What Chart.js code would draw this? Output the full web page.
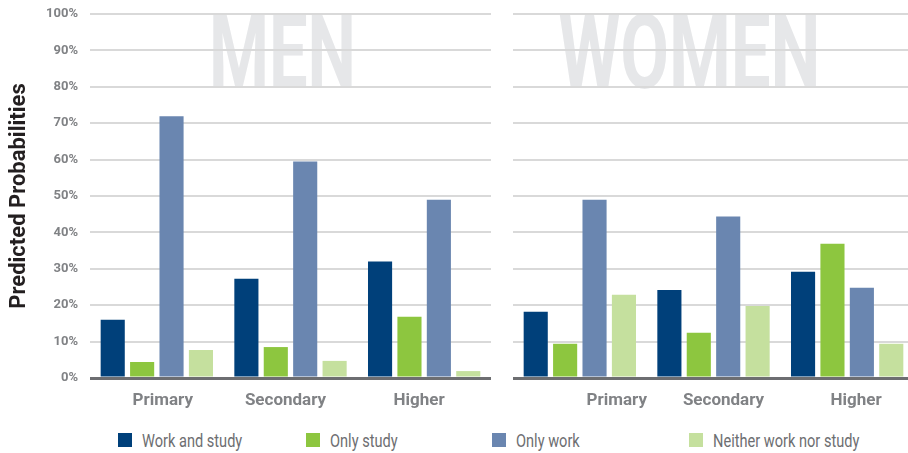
<!DOCTYPE html>
<html>
<head>
<meta charset="utf-8">
<script src="https://cdn.jsdelivr.net/npm/chart.js@4.4.1/dist/chart.umd.min.js"></script>
<style>
    html, body { margin: 0; padding: 0; background: #fff; overflow: hidden; }
    body { width: 908px; height: 453px; position: relative; }
    #menChart { position: absolute; left: 0; top: 0; }
    #womenChart { position: absolute; left: 513px; top: 0; }
    .legend { position: absolute; top: 431px; left: 118px; display: flex; }
    .legend-item { display: flex; align-items: center; height: 18px; font-family: Roboto, sans-serif; font-size: 18px; color: #6d6e71; }
    .legend-color { width: 14px; height: 14px; margin-right: 10px; flex: none; }
    .legend-label { display: inline-block; transform: scaleX(0.81); transform-origin: left center; white-space: nowrap; }
</style>
</head>
<body>
<canvas id="menChart" width="495" height="412"></canvas>
<canvas id="womenChart" width="402" height="412"></canvas>
<div class="legend" id="legend"></div>

<script>
// Education levels (x categories)
const educationLevels = ['Primary', 'Secondary', 'Higher'];
const seriesNames = ['Work and study', 'Only study', 'Only work', 'Neither work nor study'];

// Predicted probabilities (%), men
const menWorkAndStudy = [16.0, 27.3, 32.0];
const menOnlyStudy = [4.4, 8.5, 16.8];
const menOnlyWork = [71.9, 59.5, 49.0];
const menNeither = [7.7, 4.7, 1.9];

// Predicted probabilities (%), women
const womenWorkAndStudy = [18.2, 24.2, 29.2];
const womenOnlyStudy = [9.4, 12.4, 36.9];
const womenOnlyWork = [49.0, 44.4, 24.8];
const womenNeither = [22.9, 19.8, 9.4];

const seriesColors = ['#00407a', '#8dc63f', '#6a86b0', '#c5e09e'];
const tickColor = '#808285';
const gridColor = '#d9d9d9';
const axisColor = '#6d6e71';

// watermark text ("MEN" / "WOMEN") drawn behind the grid
const watermarkPlugin = {
    id: 'watermark',
    beforeDraw(chart, args, opts) {
        if (!opts.text) return;
        const ctx = chart.ctx;
        const area = chart.chartArea;
        ctx.save();
        ctx.font = 'bold 104px Roboto, sans-serif';
        const w = ctx.measureText(opts.text).width;
        const sx = opts.width / w;
        const cx = area.left + (area.right - area.left) * opts.center;
        ctx.translate(cx, area.top + 74);
        ctx.scale(sx, 1);
        ctx.fillStyle = '#e6e7e9';
        ctx.textAlign = 'center';
        ctx.textBaseline = 'alphabetic';
        ctx.fillText(opts.text, 0, 0);
        ctx.restore();
    }
};

// category labels under the x axis (slightly shifted, like the original)
const categoryLabelsPlugin = {
    id: 'categoryLabels',
    afterDraw(chart, args, opts) {
        const ctx = chart.ctx;
        const xScale = chart.scales.x;
        ctx.save();
        ctx.font = 'bold 17px Roboto, sans-serif';
        ctx.fillStyle = tickColor;
        ctx.textAlign = 'center';
        ctx.textBaseline = 'middle';
        educationLevels.forEach((label, i) => {
            const x = xScale.getPixelForValue(i) + (opts.shift[i] || 0);
            ctx.fillText(label, x, chart.chartArea.bottom + 23);
        });
        ctx.restore();
    }
};

function buildDatasets(values) {
    return values.map((data, i) => ({
        label: seriesNames[i],
        data: data,
        backgroundColor: seriesColors[i],
        borderWidth: 0,
        categoryPercentage: 0.88,
        barPercentage: 0.82
    }));
}

function buildChart(canvasId, values, showAxis, watermark, shift, padRight) {
    const ctx = document.getElementById(canvasId);
    return new Chart(ctx, {
        type: 'bar',
        data: {
            labels: educationLevels,
            datasets: buildDatasets(values)
        },
        options: {
            responsive: false,
            animation: false,
            layout: {
                padding: { top: 14, right: padRight, bottom: 0, left: 0 }
            },
            plugins: {
                legend: { display: false },
                tooltip: { enabled: false },
                watermark: watermark,
                categoryLabels: { shift: shift }
            },
            scales: {
                x: {
                    grid: { display: false },
                    border: { display: false },
                    ticks: { display: false },
                    afterFit: (scale) => { scale.height = 34; }
                },
                y: {
                    min: 0,
                    max: 100,
                    border: { display: false },
                    grid: {
                        drawTicks: false,
                        color: (c) => c.tick && c.tick.value === 0 ? axisColor : gridColor,
                        lineWidth: (c) => c.tick && c.tick.value === 0 ? 3 : 2
                    },
                    ticks: {
                        display: showAxis,
                        stepSize: 10,
                        padding: 12,
                        color: tickColor,
                        font: { family: 'Roboto', weight: 'bold', size: 13 },
                        callback: (value) => value + '%'
                    },
                    title: {
                        display: showAxis,
                        text: 'Predicted Probabilities',
                        color: '#231f20',
                        font: { family: 'Roboto', weight: 'bold', size: 22 },
                        padding: { top: 6, bottom: 0 }
                    },
                    afterFit: (scale) => {
                        scale.width = showAxis ? 90 : 0;
                        scale.paddingTop = 0;
                        scale.paddingBottom = 0;
                    }
                }
            }
        },
        plugins: [watermarkPlugin, categoryLabelsPlugin]
    });
}

buildChart('menChart',
    [menWorkAndStudy, menOnlyStudy, menOnlyWork, menNeither],
    true, { text: 'MEN', center: 0.48, width: 147 }, [6, -5, -5], 4);

buildChart('womenChart',
    [womenWorkAndStudy, womenOnlyStudy, womenOnlyWork, womenNeither],
    false, { text: 'WOMEN', center: 0.44, width: 262 }, [37, 10, 9], 1);

// shared legend
const legendWidths = [188, 186, 197, 0];
document.getElementById('legend').innerHTML = seriesNames.map((name, i) => `
    <div class="legend-item" style="${legendWidths[i] ? 'width:' + legendWidths[i] + 'px' : ''}">
        <span class="legend-color" style="background-color: ${seriesColors[i]}"></span>
        <span class="legend-label">${name}</span>
    </div>
`).join('');
</script>
</body>
</html>
